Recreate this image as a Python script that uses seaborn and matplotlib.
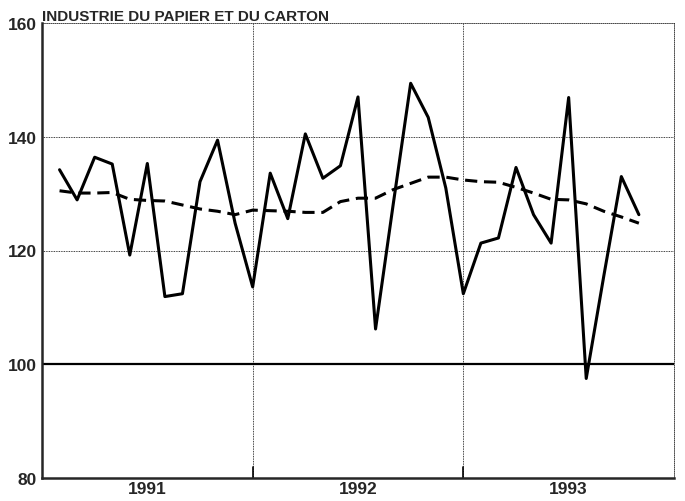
import matplotlib
matplotlib.use("Agg")
import matplotlib.pyplot as plt
from matplotlib.ticker import MultipleLocator, FixedLocator
import numpy as np
import pandas as pd
import seaborn as sns

# Mois observes : fevrier 1991 a novembre 1993
periodes = pd.period_range("1991-02", "1993-11", freq="M")

indice = [134.2, 128.9, 136.4, 135.2, 119.2, 135.3, 111.9, 112.4, 132.1, 139.4,
          124.8, 113.6, 133.6, 125.6, 140.5, 132.7, 134.9, 147.0, 106.2, 128.0,
          149.4, 143.4, 131.0, 112.4, 121.3, 122.2, 134.6, 126.3, 121.3, 146.9,
          97.5, 115.5, 133.0, 126.3]

tendance = [130.5, 130.1, 130.1, 130.2, 129.0, 128.8, 128.7, 128.0, 127.3, 126.9,
            126.3, 127.1, 127.0, 126.9, 126.7, 126.7, 128.6, 129.2, 129.2, 130.7,
            131.8, 132.9, 132.9, 132.4, 132.1, 132.0, 131.1, 130.1, 129.0, 128.9,
            128.2, 126.9, 125.9, 124.8]

annees = ["1991", "1992", "1993"]
titre = "INDUSTRIE DU PAPIER ET DU CARTON"

# position en mois depuis janvier 1991
mois = [(p.year - 1991) * 12 + p.month - 1 for p in periodes]
df = pd.DataFrame({"mois": mois, "indice": indice, "tendance": tendance})

sns.set_style("white")
plt.rcParams["font.family"] = ["Liberation Sans Narrow", "Liberation Sans", "DejaVu Sans"]

fig = plt.figure(figsize=(6.85, 5.02), dpi=100)
ax = fig.add_axes([42 / 685, 23 / 502, 632 / 685, 455 / 502])

sns.lineplot(data=df, x="mois", y="indice", ax=ax, color="black", lw=2.2)
sns.lineplot(data=df, x="mois", y="tendance", ax=ax, color="black", lw=2.2,
             linestyle=(0, (4, 2.2)))
ax.axhline(100, color="black", lw=1.6)

ax.set_xlim(0, 36)
ax.set_ylim(80, 160)

# grille pointillee
for v in [120, 140]:
    ax.axhline(v, color="black", lw=0.6, ls=(0, (1, 1)), zorder=0)
for m in [12, 24]:
    ax.axvline(m, color="black", lw=0.6, ls=(0, (1, 1)), zorder=0)

for s in ["top", "right"]:
    ax.spines[s].set_linestyle((0, (1, 1.5)))
    ax.spines[s].set_linewidth(0.6)
for s in ["left", "bottom"]:
    ax.spines[s].set_linewidth(1.8)

ax.yaxis.set_major_locator(MultipleLocator(20))
ax.yaxis.set_minor_locator(MultipleLocator(5))
ax.tick_params(axis="y", which="major", direction="out", length=3, width=1.2,
               labelsize=12.5, pad=0.5)
ax.tick_params(axis="y", which="minor", direction="in", length=3, width=1)

ax.xaxis.set_major_locator(FixedLocator([6, 18, 30]))
ax.xaxis.set_minor_locator(MultipleLocator(1))
ax.set_xticklabels(annees)
ax.tick_params(axis="x", which="major", length=0, labelsize=12.5, pad=2)
ax.tick_params(axis="x", which="minor", direction="in", length=3, width=1)
for m in [12, 24]:
    ax.plot([m, m], [80, 82], color="black", lw=1.2, clip_on=False)

for lab in ax.get_xticklabels() + ax.get_yticklabels():
    lab.set_fontweight("bold")

ax.set_xlabel("")
ax.set_ylabel("")
ax.set_title(titre, loc="left", fontsize=11, fontweight="bold", pad=2, x=0.0,
             family=["Liberation Sans", "DejaVu Sans"])

fig.savefig("out.png", dpi=100)
